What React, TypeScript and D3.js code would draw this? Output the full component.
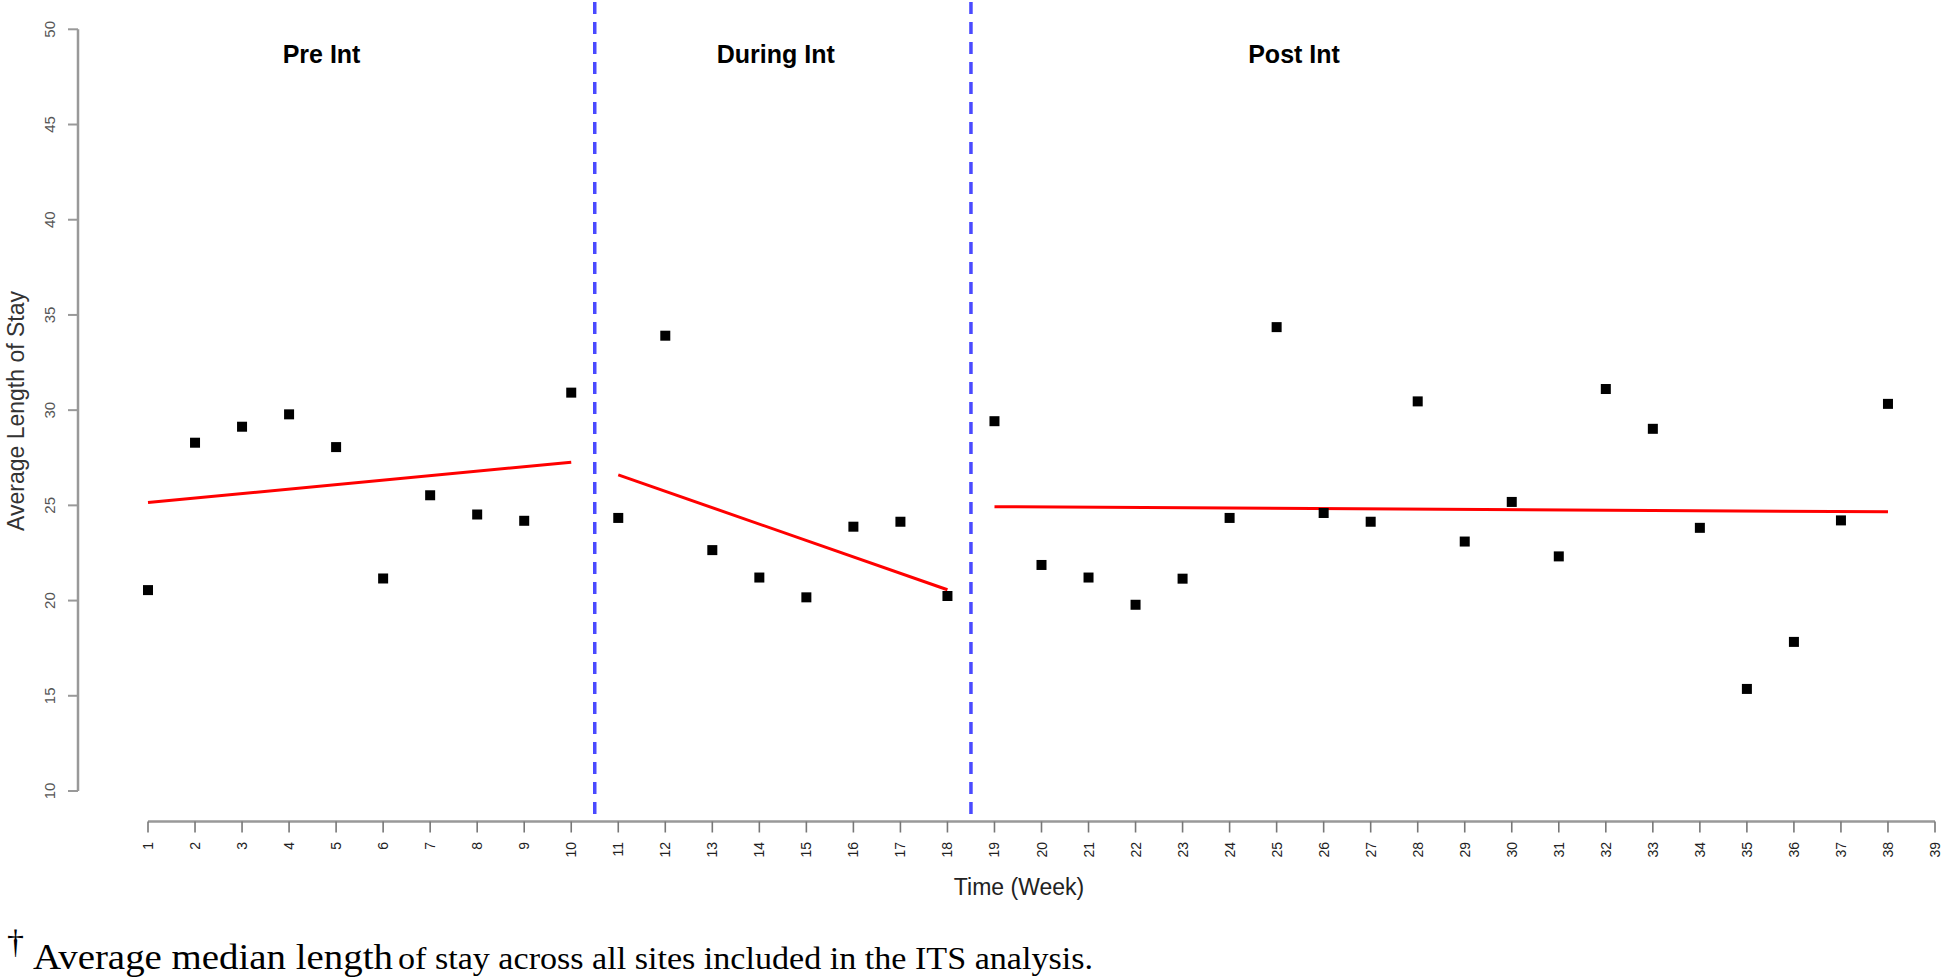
import React from "react";
import * as d3 from "d3";

const weeks = [1, 2, 3, 4, 5, 6, 7, 8, 9, 10, 11, 12, 13, 14, 15, 16, 17, 18, 19, 20, 21, 22, 23, 24, 25, 26, 27, 28, 29, 30, 31, 32, 33, 34, 35, 36, 37, 38];
const lengthOfStay = [20.55, 28.29, 29.13, 29.78, 28.06, 21.16, 25.53, 24.52, 24.19, 30.92, 24.34, 33.91, 22.65, 21.21, 20.17, 23.88, 24.14, 20.24, 29.42, 21.87, 21.21, 19.78, 21.15, 24.34, 34.36, 24.6, 24.14, 30.46, 23.1, 25.18, 22.32, 31.11, 29.02, 23.82, 15.36, 17.83, 24.21, 30.33];
const xTickLabels = ["1", "2", "3", "4", "5", "6", "7", "8", "9", "10", "11", "12", "13", "14", "15", "16", "17", "18", "19", "20", "21", "22", "23", "24", "25", "26", "27", "28", "29", "30", "31", "32", "33", "34", "35", "36", "37", "38", "39"];
const yTickValues = [10, 15, 20, 25, 30, 35, 40, 45, 50];
const phaseNames = ["Pre Int", "During Int", "Post Int"];
const phaseBreaks = [10.5, 18.5];
const trendStartWeek = [1, 11, 19];
const trendEndWeek = [10, 18, 38];
const trendStartValue = [25.15, 26.6, 24.93];
const trendEndValue = [27.27, 20.57, 24.66];

export default function App() {
  const W = 1943;
  const H = 979;
  const x = d3.scaleLinear().domain([1, 39]).range([148, 1935]);
  const y = d3.scaleLinear().domain([10, 50]).range([791, 29.3]);
  const axisY = 821.5;
  const axisX = 78;
  const phaseLabelWeeks = [4.69, 14.35, 25.37];
  const line = d3.line<[number, number]>().x((d) => x(d[0])).y((d) => y(d[1]));
  const sans = "'Liberation Sans', Arial, Helvetica, sans-serif";
  const serif = "'Liberation Serif', 'Times New Roman', serif";

  return (
    <svg width={W} height={H} style={{ position: "absolute", left: 0, top: 0, display: "block", background: "#fff" }}>
      <rect x={0} y={0} width={W} height={H} fill="#fff" />
      {/* y axis */}
      <line x1={axisX} x2={axisX} y1={y(10)} y2={y(50)} stroke="#999" strokeWidth={2.5} />
      {yTickValues.map((v) => (
        <g key={"yt" + v}>
          <line x1={axisX - 10} x2={axisX} y1={y(v)} y2={y(v)} stroke="#999" strokeWidth={2} />
          <text
            transform={`translate(55,${y(v)}) rotate(-90)`}
            textAnchor="middle"
            fontFamily={sans}
            fontSize={15}
            fill="#555"
          >
            {v}
          </text>
        </g>
      ))}
      <text
        transform={`translate(24,411) rotate(-90)`}
        textAnchor="middle"
        fontFamily={sans}
        fontSize={23}
        fill="#333"
      >
        Average Length of Stay
      </text>
      {/* x axis */}
      <line x1={x(1)} x2={x(39)} y1={axisY} y2={axisY} stroke="#999" strokeWidth={2.5} />
      {xTickLabels.map((t, i) => {
        const xv = x(i + 1);
        return (
          <g key={"xt" + t}>
            <line x1={xv} x2={xv} y1={axisY} y2={axisY + 11} stroke="#777" strokeWidth={1.6} />
            <text
              transform={`translate(${xv + 5},842) rotate(-90)`}
              textAnchor="end"
              fontFamily={sans}
              fontSize={14}
              fill="#222"
            >
              {t}
            </text>
          </g>
        );
      })}
      <text x={1019} y={895} textAnchor="middle" fontFamily={sans} fontSize={23} fill="#222">
        Time (Week)
      </text>
      {/* phase breaks */}
      {phaseBreaks.map((b) => (
        <line
          key={"pb" + b}
          x1={x(b)}
          x2={x(b)}
          y1={2}
          y2={axisY}
          stroke="#4a4aff"
          strokeWidth={3.5}
          strokeDasharray="12,8"
        />
      ))}
      {/* phase labels */}
      {phaseNames.map((n, i) => (
        <text
          key={n}
          x={x(phaseLabelWeeks[i])}
          y={63}
          textAnchor="middle"
          fontFamily={sans}
          fontWeight="bold"
          fontSize={25}
          fill="#000"
        >
          {n}
        </text>
      ))}
      {/* trend lines */}
      {trendStartWeek.map((s, i) => (
        <path
          key={"tr" + i}
          d={line([
            [s, trendStartValue[i]],
            [trendEndWeek[i], trendEndValue[i]],
          ]) || ""}
          stroke="#ff0000"
          strokeWidth={3}
          fill="none"
        />
      ))}
      {/* points */}
      {weeks.map((w, i) => (
        <rect key={"p" + w} x={x(w) - 5} y={y(lengthOfStay[i]) - 5} width={10} height={10} fill="#000" />
      ))}
      {/* footnote */}
      <text x={7} y={953} fontFamily={serif} fontSize={34} fill="#000">
        †
      </text>
      <text x={33} y={969} fontFamily={serif} fontSize={35} fill="#000" textLength={360} lengthAdjust="spacingAndGlyphs">
        Average median length
      </text>
      <text x={398} y={969} fontFamily={serif} fontSize={32} fill="#000" textLength={695} lengthAdjust="spacingAndGlyphs">
        of stay across all sites included in the ITS analysis.
      </text>
    </svg>
  );
}
